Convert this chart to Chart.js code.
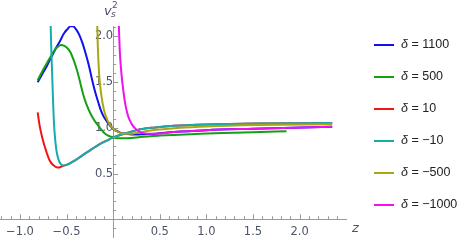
<!DOCTYPE html>
<html>
<head>
<meta charset="utf-8">
<script src="https://cdn.jsdelivr.net/npm/chart.js@4.4.1/dist/chart.umd.min.js"></script>
<style>
  body { margin: 0; background: #fff; }
  #wrap { position: relative; width: 467px; height: 248px; }
  #wrap span { position: absolute; white-space: nowrap; line-height: 1; }
  .ax { color: #4c5468; font-family: "DejaVu Sans", sans-serif; font-style: italic; }
  .leg { font-family: "Liberation Sans", Arial, sans-serif; font-size: 12.5px; color: #222; }
</style>
</head>
<body>
<div id="wrap">
  <canvas id="chart" width="467" height="248"></canvas>
  <span class="ax" style="left:104px;top:4px;font-size:13px">v</span>
  <span class="ax" style="left:111px;top:10px;font-size:9px">s</span>
  <span class="ax" style="left:112px;top:1px;font-size:9px;font-style:normal">2</span>
  <span class="ax" style="left:352px;top:221px;font-size:13px">z</span>
</div>
<script>
// legend labels and colours
const deltas = ['1100', '500', '10', '\u221210', '\u2212500', '\u22121000'];
const colors = ['#1010f0', '#14a014', '#f01414', '#14acac', '#a8a810', '#f010f0'];

// delta = 1100
const z1100 = [-0.81, -0.76, -0.71, -0.66, -0.62, -0.57, -0.53, -0.49, -0.46, -0.43, -0.40, -0.37, -0.33, -0.30, -0.26, -0.225, -0.19, -0.16, -0.135, -0.10, -0.06, -0.03, 0.01, 0.05, 0.08, 0.14, 0.20, 0.27, 0.33, 0.45, 0.65, 1.0, 1.5, 1.72, 2.35];
const v1100 = [1.50, 1.59, 1.68, 1.78, 1.86, 1.95, 2.03, 2.08, 2.11, 2.11, 2.08, 2.03, 1.93, 1.83, 1.68, 1.52, 1.38, 1.28, 1.20, 1.12, 1.06, 1.02, 0.98, 0.96, 0.945, 0.935, 0.928, 0.927, 0.93, 0.935, 0.955, 0.975, 0.99, 0.996, 1.012];

// delta = 500
const z500 = [-0.81, -0.76, -0.71, -0.67, -0.62, -0.59, -0.56, -0.53, -0.50, -0.46, -0.42, -0.385, -0.35, -0.32, -0.28, -0.22, -0.15, -0.08, 0, 0.08, 0.2, 0.29, 0.5, 0.65, 1.0, 1.18, 1.5, 1.86];
const v500 = [1.52, 1.62, 1.71, 1.78, 1.86, 1.89, 1.905, 1.90, 1.88, 1.83, 1.73, 1.62, 1.48, 1.36, 1.24, 1.11, 1.01, 0.93, 0.895, 0.885, 0.89, 0.90, 0.915, 0.923, 0.938, 0.944, 0.953, 0.962];

// delta = 10
const z10 = [-0.81, -0.79, -0.76, -0.72, -0.68, -0.64, -0.60, -0.57, -0.535, -0.50, -0.46, -0.40, -0.35, -0.30, -0.24, -0.14, -0.07, 0, 0.08, 0.15, 0.22, 0.29, 0.45, 0.65, 1.0, 1.54, 2.35];
const v10 = [1.17, 1.03, 0.89, 0.75, 0.64, 0.59, 0.567, 0.57, 0.585, 0.595, 0.615, 0.65, 0.685, 0.72, 0.76, 0.825, 0.86, 0.895, 0.925, 0.945, 0.965, 0.985, 1.005, 1.022, 1.037, 1.048, 1.052];

// delta = -10
const zNeg10 = [-0.675, -0.665, -0.655, -0.645, -0.635, -0.62, -0.605, -0.585, -0.56, -0.535, -0.50, -0.46, -0.40, -0.35, -0.30, -0.24, -0.14, -0.07, 0, 0.08, 0.15, 0.22, 0.29, 0.45, 0.65, 1.0, 1.54, 2.35];
const vNeg10 = [2.3, 1.9, 1.6, 1.3, 1.05, 0.85, 0.73, 0.65, 0.60, 0.588, 0.595, 0.615, 0.65, 0.685, 0.72, 0.76, 0.825, 0.86, 0.895, 0.925, 0.945, 0.965, 0.985, 1.005, 1.022, 1.037, 1.048, 1.052];

// delta = -500
const zNeg500 = [-0.175, -0.165, -0.15, -0.13, -0.10, -0.06, -0.01, 0.06, 0.12, 0.18, 0.25, 0.40, 0.72, 1.0, 1.54, 2.35];
const vNeg500 = [2.3, 1.9, 1.58, 1.38, 1.20, 1.08, 1.0, 0.95, 0.935, 0.935, 0.945, 0.97, 1.0, 1.015, 1.03, 1.04];

// delta = -1000
const zNeg1000 = [0.055, 0.07, 0.09, 0.11, 0.13, 0.16, 0.20, 0.25, 0.30, 0.37, 0.45, 0.65, 1.0, 1.5, 1.72, 2.35];
const vNeg1000 = [2.3, 1.86, 1.58, 1.40, 1.26, 1.13, 1.04, 0.98, 0.95, 0.935, 0.935, 0.955, 0.975, 0.99, 0.996, 1.012];

const xTicks = [-1.0, -0.5, 0.5, 1.0, 1.5, 2.0];
const xTickLabels = ['\u22121.0', '\u22120.5', '0.5', '1.0', '1.5', '2.0'];
const yTicks = [0.5, 1.0, 1.5, 2.0];
const yTickLabels = ['0.5', '1.0', '1.5', '2.0'];

const zs = [z1100, z500, z10, zNeg10, zNeg500, zNeg1000];
const vs = [v1100, v500, v10, vNeg10, vNeg500, vNeg1000];

const axisColor = '#9a9a9a';
const tickFont = { family: 'DejaVu Sans', size: 11.5 };

// minor/major tick marks like Mathematica axes
const tickMarks = {
  id: 'tickMarks',
  afterDraw(chart) {
    const { ctx, scales: { x, y } } = chart;
    const x0 = x.getPixelForValue(0), y0 = y.getPixelForValue(0);
    ctx.save();
    ctx.strokeStyle = axisColor;
    ctx.lineWidth = 1;
    ctx.beginPath();
    for (let i = Math.ceil(x.min * 10); i <= Math.floor(x.max * 10); i++) {
      if (i === 0) continue;
      const px = Math.round(x.getPixelForValue(i / 10)) + 0.5;
      const len = i % 5 === 0 ? 5 : 3;
      ctx.moveTo(px, y0);
      ctx.lineTo(px, y0 - len);
    }
    for (let i = Math.ceil(y.min * 10); i <= Math.floor(y.max * 10); i++) {
      if (i === 0) continue;
      const py = Math.round(y.getPixelForValue(i / 10)) + 0.5;
      const len = i % 5 === 0 ? 5 : 3;
      ctx.moveTo(x0, py);
      ctx.lineTo(x0 + len, py);
    }
    ctx.stroke();
    ctx.restore();
  }
};

new Chart(document.getElementById('chart'), {
  type: 'line',
  data: {
    datasets: deltas.map((d, i) => ({
      label: '\u03b4 = ' + d,
      data: zs[i].map((z, j) => ({ x: z, y: vs[i][j] })),
      borderColor: colors[i],
      borderWidth: 2,
      pointRadius: 0,
      cubicInterpolationMode: 'monotone',
      order: deltas.length - i
    }))
  },
  options: {
    responsive: false,
    animation: false,
    devicePixelRatio: 1,
    layout: { padding: { left: 0, right: 121, top: 26, bottom: 1 } },
    plugins: { legend: { display: false }, tooltip: { enabled: false } },
    scales: {
      x: {
        type: 'linear',
        position: { y: 0 },
        min: -1.207,
        max: 2.498,
        afterBuildTicks: s => { s.ticks = xTicks.map(v => ({ value: v })); },
        ticks: {
          callback: v => xTickLabels[xTicks.indexOf(v)],
          font: tickFont,
          color: '#4c5468',
          padding: 6,
          maxRotation: 0,
          autoSkip: false
        },
        grid: { drawOnChartArea: false, drawTicks: false },
        border: { color: axisColor, width: 1 }
      },
      y: {
        type: 'linear',
        position: { x: 0 },
        min: -0.195,
        max: 2.114,
        afterBuildTicks: s => { s.ticks = yTicks.map(v => ({ value: v })); },
        ticks: {
          callback: v => yTickLabels[yTicks.indexOf(v)],
          font: tickFont,
          color: '#4c5468',
          padding: 4,
          autoSkip: false
        },
        grid: { drawOnChartArea: false, drawTicks: false },
        border: { color: axisColor, width: 1 }
      }
    }
  },
  plugins: [tickMarks]
});

// legend
const wrap = document.getElementById('wrap');
deltas.forEach((d, i) => {
  const top = 45 + i * 32;
  const line = document.createElement('span');
  line.style.cssText = `left:374px;top:${top - 1}px;width:20px;height:2px;background:${colors[i]}`;
  wrap.appendChild(line);
  const txt = document.createElement('span');
  txt.className = 'leg';
  txt.style.cssText = `left:401px;top:${top - 7}px`;
  txt.innerHTML = '<i>\u03b4</i> = ' + d;
  wrap.appendChild(txt);
});
</script>
</body>
</html>
